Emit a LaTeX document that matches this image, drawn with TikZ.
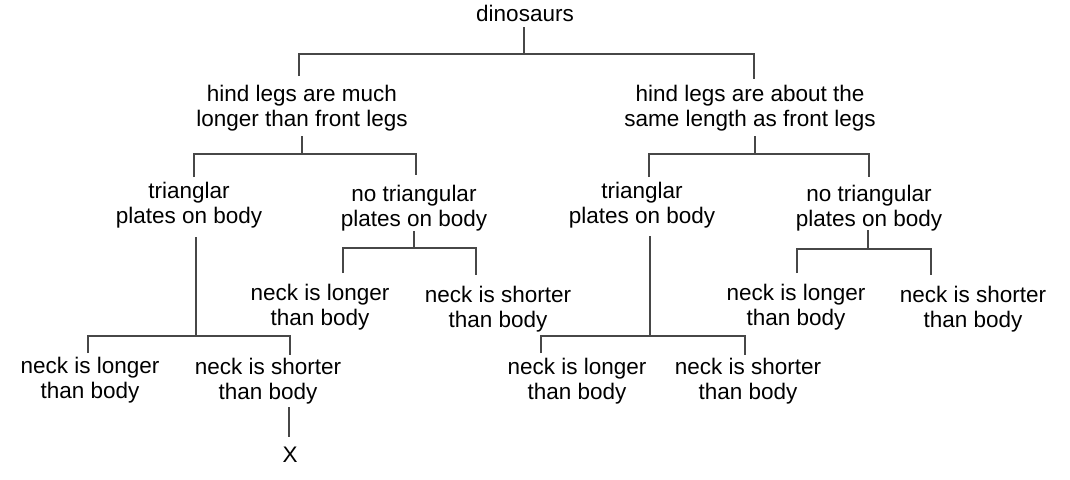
\documentclass[tikz,border=0pt]{standalone}
\usepackage{fontspec}
\setmainfont{Liberation Sans}
\begin{document}
\begin{tikzpicture}[x=1pt,y=-1pt,
  lbl/.style={inner sep=0pt, align=center, text=black, font=\fontsize{22.5}{25}\selectfont},
  conn/.style={draw=black!72, line width=1.4pt}]
\useasboundingbox (0,0) rectangle (1070,479);
% nodes
\node[lbl] (root) at (525,16) {\strut dinosaurs};
\node[lbl] (hl) at (302,108.5) {\strut hind legs are much\\longer than front legs\strut};
\node[lbl] (hr) at (750,108.5) {\strut hind legs are about the\\same length as front legs\strut};
\node[lbl] (tl) at (189,205.5) {\strut trianglar\\plates on body\strut};
\node[lbl] (nl) at (414,208.5) {\strut no triangular\\plates on body\strut};
\node[lbl] (tr) at (642,205.5) {\strut trianglar\\plates on body\strut};
\node[lbl] (nr) at (869,208.5) {\strut no triangular\\plates on body\strut};
\node[lbl] (nlA) at (320,307.5) {\strut neck is longer\\than body\strut};
\node[lbl] (nlB) at (498,309.5) {\strut neck is shorter\\than body\strut};
\node[lbl] (nrA) at (796,307.5) {\strut neck is longer\\than body\strut};
\node[lbl] (nrB) at (973,309.5) {\strut neck is shorter\\than body\strut};
\node[lbl] (tlA) at (90,380.5) {\strut neck is longer\\than body\strut};
\node[lbl] (tlB) at (268,381.5) {\strut neck is shorter\\than body\strut};
\node[lbl] (trA) at (577,381.5) {\strut neck is longer\\than body\strut};
\node[lbl] (trB) at (748,381.5) {\strut neck is shorter\\than body\strut};
\node[lbl] (x) at (290,457) {\strut X};
% connector points
\coordinate (root-s) at (524,27);   \coordinate (root-b) at (524,54);
\coordinate (hl-n) at (299,76);     \coordinate (hr-n) at (754,79);
\coordinate (hl-s) at (302,136);    \coordinate (hl-b) at (302,154);
\coordinate (tl-n) at (194,177);    \coordinate (nl-n) at (416,175);
\coordinate (hr-s) at (755,136);    \coordinate (hr-b) at (755,154);
\coordinate (tr-n) at (649,177);    \coordinate (nr-n) at (869,177);
\coordinate (tl-s) at (196,237);    \coordinate (tl-b) at (196,336);
\coordinate (tlA-n) at (88,353);    \coordinate (tlB-n) at (290,355);
\coordinate (nl-s) at (414,231);    \coordinate (nl-b) at (414,248);
\coordinate (nlA-n) at (343,273);   \coordinate (nlB-n) at (476,275);
\coordinate (tr-s) at (650,236);    \coordinate (tr-b) at (650,336);
\coordinate (trA-n) at (541,353);   \coordinate (trB-n) at (745,355);
\coordinate (nr-s) at (868,230);    \coordinate (nr-b) at (868,249);
\coordinate (nrA-n) at (797,273);   \coordinate (nrB-n) at (931,275);
\coordinate (tlB-s) at (289,407);   \coordinate (x-n) at (289,437);
% connectors
\draw[conn] (root-s) -- (root-b);
\draw[conn] (hl-n) |- (root-b) -| (hr-n);
\draw[conn] (hl-s) -- (hl-b);
\draw[conn] (tl-n) |- (hl-b) -| (nl-n);
\draw[conn] (hr-s) -- (hr-b);
\draw[conn] (tr-n) |- (hr-b) -| (nr-n);
\draw[conn] (tl-s) -- (tl-b);
\draw[conn] (tlA-n) |- (tl-b) -| (tlB-n);
\draw[conn] (nl-s) -- (nl-b);
\draw[conn] (nlA-n) |- (nl-b) -| (nlB-n);
\draw[conn] (tr-s) -- (tr-b);
\draw[conn] (trA-n) |- (tr-b) -| (trB-n);
\draw[conn] (nr-s) -- (nr-b);
\draw[conn] (nrA-n) |- (nr-b) -| (nrB-n);
\draw[conn] (tlB-s) -- (x-n);
\end{tikzpicture}
\end{document}
